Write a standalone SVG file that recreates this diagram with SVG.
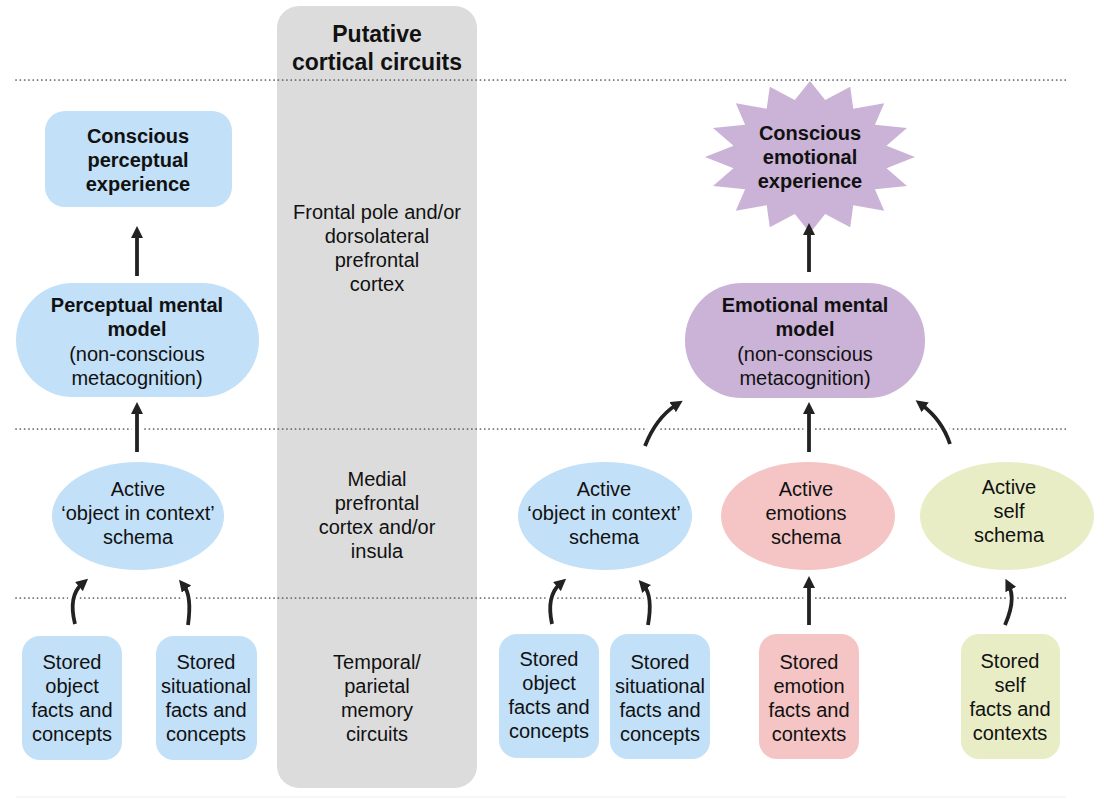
<svg xmlns="http://www.w3.org/2000/svg" width="1104" height="799" viewBox="0 0 1104 799">
<defs>
<style>
text{font-family:"Liberation Sans",Arial,Helvetica,sans-serif;font-size:20px;fill:#111;text-anchor:middle}
.b{font-weight:bold}
.t{font-weight:bold;font-size:23px}
.blue{fill:#c2e0f7}
.purple{fill:#cbb3d7}
.pink{fill:#f5c4c4}
.yellow{fill:#e8edc5}
.dot{stroke:#555;stroke-width:1.7;stroke-dasharray:0.1 4.2;stroke-linecap:round;fill:none}
.halo{stroke:#fff;stroke-width:11;fill:none}
.arr{stroke:#222;stroke-width:3.8;fill:none;marker-end:url(#ah)}
</style>
<marker id="ah" viewBox="0 0 12 12" refX="4" refY="6" markerWidth="12" markerHeight="12" markerUnits="userSpaceOnUse" orient="auto">
<path d="M0,0 L12,6 L0,12 Z" fill="#222"/>
</marker>
</defs>
<rect width="1104" height="799" fill="#fff"/>
<g id="column">
<rect x="277" y="6" width="200" height="782" rx="22" fill="#dcdcdc"/>
<text class="t" x="377" y="42">Putative</text>
<text class="t" x="377" y="70">cortical circuits</text>
<text x="377" y="219">Frontal pole and/or</text>
<text x="377" y="243">dorsolateral</text>
<text x="377" y="267">prefrontal</text>
<text x="377" y="291">cortex</text>
<text x="377" y="486">Medial</text>
<text x="377" y="510">prefrontal</text>
<text x="377" y="534">cortex and/or</text>
<text x="377" y="558">insula</text>
<text x="377" y="669">Temporal/</text>
<text x="377" y="693">parietal</text>
<text x="377" y="717">memory</text>
<text x="377" y="741">circuits</text>
</g>
<g id="dividers">
<line class="dot" x1="16" y1="80" x2="1066" y2="80"/>
<line class="dot" x1="16" y1="429" x2="1066" y2="429"/>
<line class="dot" x1="16" y1="598" x2="1066" y2="598"/>
<line x1="16" y1="797" x2="1066" y2="797" stroke="#eeeeee" stroke-width="1"/>
</g>
<g id="conscious-perceptual">
<rect class="blue" x="45" y="111" width="187" height="96" rx="20"/>
<text class="b" x="138" y="143">Conscious</text>
<text class="b" x="138" y="167">perceptual</text>
<text class="b" x="138" y="191">experience</text>
</g>
<g id="perceptual-model">
<rect class="blue" x="16" y="283" width="243" height="114" rx="57"/>
<text class="b" x="137" y="312">Perceptual mental</text>
<text class="b" x="137" y="336">model</text>
<text x="137" y="361">(non-conscious</text>
<text x="137" y="385">metacognition)</text>
</g>
<g id="active-object-left">
<ellipse class="blue" cx="138" cy="516" rx="86" ry="54"/>
<text x="138" y="496">Active</text>
<text x="138" y="520">‘object in context’</text>
<text x="138" y="544">schema</text>
</g>
<g id="stored-object-left">
<rect class="blue" x="22" y="636" width="100" height="124" rx="18"/>
<text x="72" y="669">Stored</text>
<text x="72" y="693">object</text>
<text x="72" y="717">facts and</text>
<text x="72" y="741">concepts</text>
</g>
<g id="stored-situational-left">
<rect class="blue" x="156" y="636" width="101" height="124" rx="18"/>
<text x="206" y="669">Stored</text>
<text x="206" y="693">situational</text>
<text x="206" y="717">facts and</text>
<text x="206" y="741">concepts</text>
</g>
<g id="conscious-emotional">
<path class="purple" d="M810,81 L825.2,100.1 L850.2,86.8 L853.3,108.8 L884.2,103.3 L874.9,124.8 L907,127.9 L886.5,145.7 L915,157 L886.5,168.3 L907,186.1 L874.9,189.2 L884.2,210.7 L853.3,205.2 L850.2,227.2 L825.2,213.9 L810,233 L794.8,213.9 L769.8,227.2 L766.7,205.2 L735.8,210.7 L745.1,189.2 L713,186.1 L733.5,168.3 L705,157 L733.5,145.7 L713,127.9 L745.1,124.8 L735.8,103.3 L766.7,108.8 L769.8,86.8 L794.8,100.1 Z"/>
<text class="b" x="810" y="140">Conscious</text>
<text class="b" x="810" y="164">emotional</text>
<text class="b" x="810" y="188">experience</text>
</g>
<g id="emotional-model">
<rect class="purple" x="685" y="283" width="240" height="115" rx="57"/>
<text class="b" x="805" y="312">Emotional mental</text>
<text class="b" x="805" y="336">model</text>
<text x="805" y="361">(non-conscious</text>
<text x="805" y="385">metacognition)</text>
</g>
<g id="active-object-right">
<ellipse class="blue" cx="605" cy="516" rx="87" ry="54"/>
<text x="604" y="496">Active</text>
<text x="604" y="520">‘object in context’</text>
<text x="604" y="544">schema</text>
</g>
<g id="active-emotions">
<ellipse class="pink" cx="808" cy="516" rx="87" ry="54"/>
<text x="806" y="496">Active</text>
<text x="806" y="520">emotions</text>
<text x="806" y="544">schema</text>
</g>
<g id="active-self">
<ellipse class="yellow" cx="1007" cy="516" rx="87" ry="54"/>
<text x="1009" y="494">Active</text>
<text x="1009" y="518">self</text>
<text x="1009" y="542">schema</text>
</g>
<g id="stored-object-right">
<rect class="blue" x="499" y="634" width="100" height="124" rx="18"/>
<text x="549" y="666">Stored</text>
<text x="549" y="690">object</text>
<text x="549" y="714">facts and</text>
<text x="549" y="738">concepts</text>
</g>
<g id="stored-situational-right">
<rect class="blue" x="610" y="634" width="100" height="125" rx="18"/>
<text x="660" y="669">Stored</text>
<text x="660" y="693">situational</text>
<text x="660" y="717">facts and</text>
<text x="660" y="741">concepts</text>
</g>
<g id="stored-emotion">
<rect class="pink" x="759" y="634" width="100" height="125" rx="18"/>
<text x="809" y="669">Stored</text>
<text x="809" y="693">emotion</text>
<text x="809" y="717">facts and</text>
<text x="809" y="741">contexts</text>
</g>
<g id="stored-self">
<rect class="yellow" x="961" y="634" width="99" height="125" rx="18"/>
<text x="1010" y="668">Stored</text>
<text x="1010" y="692">self</text>
<text x="1010" y="716">facts and</text>
<text x="1010" y="740">contexts</text>
</g>
<g id="connectors">
<path class="halo" d="M137,276 V234"/>
<path class="arr" d="M137,276 V234"/>
<path class="halo" d="M137,452 V410"/>
<path class="arr" d="M137,452 V410"/>
<path class="halo" d="M75,624 Q68,596 82,584"/>
<path class="arr" d="M75,624 Q68,596 82,584"/>
<path class="halo" d="M188,625 Q192,596 184,586"/>
<path class="arr" d="M188,625 Q192,596 184,586"/>
<path class="halo" d="M809,272 V231"/>
<path class="arr" d="M809,272 V231"/>
<path class="halo" d="M809,452 V410"/>
<path class="arr" d="M809,452 V410"/>
<path class="halo" d="M645,446 Q656,418 676,405"/>
<path class="arr" d="M645,446 Q656,418 676,405"/>
<path class="halo" d="M950,444 Q942,420 922,405"/>
<path class="arr" d="M950,444 Q942,420 922,405"/>
<path class="halo" d="M552,624 Q546,596 560,584"/>
<path class="arr" d="M552,624 Q546,596 560,584"/>
<path class="halo" d="M648,625 Q653,596 644,586"/>
<path class="arr" d="M648,625 Q653,596 644,586"/>
<path class="halo" d="M809,625 V584"/>
<path class="arr" d="M809,625 V584"/>
<path class="halo" d="M1005,625 Q1016,600 1009,586"/>
<path class="arr" d="M1005,625 Q1016,600 1009,586"/>
</g>
</svg>
